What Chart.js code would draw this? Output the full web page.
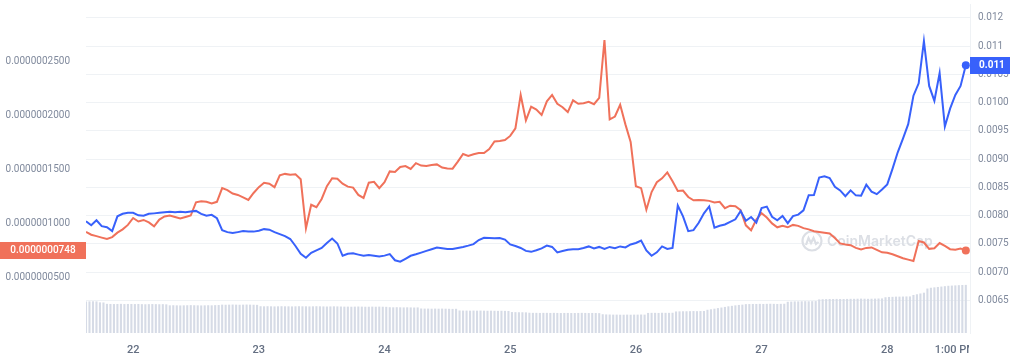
<!DOCTYPE html>
<html><head><meta charset="utf-8">
<script src="https://cdn.jsdelivr.net/npm/chart.js@4/dist/chart.umd.min.js"></script>
<style>html,body{margin:0;padding:0;background:#fff;}#wrap{width:1018px;height:356px;}</style>
</head><body><div id="wrap"><canvas id="c" width="1018" height="356"></canvas></div>
<script>
// ---- data (hourly, 21st 15:00 -> 28th 15:00) ----
const hourCount = 169;
const hours = Array.from({length: hourCount}, (_, i) => i);
const xTickHours = [9, 33, 57, 81, 105, 129, 153, 166];
const xTickLabels = ['22', '23', '24', '25', '26', '27', '28', '1:00 PM'];

const leftTickValues = [0.00000005, 0.0000001, 0.00000015, 0.0000002, 0.00000025];
const leftTickLabels = ['0.0000000500', '0.0000001000', '0.0000001500', '0.0000002000', '0.0000002500'];
const rightTickValues = [0.0065, 0.007, 0.0075, 0.008, 0.0085, 0.009, 0.0095, 0.01, 0.0105, 0.011, 0.0115];
const rightTickLabels = ['0.0065', '0.0070', '0.0075', '0.0080', '0.0085', '0.0090', '0.0095', '0.0100', '0.0105', '0.011', '0.012'];

const redLastLabel = '0.0000000748';
const blueLastLabel = '0.011';

// red series, units of 1e-9
const redPriceE9 = [
 92.1, 89.5, 88.2, 86.8, 85.5, 87.3, 91.4, 94.5, 98.6, 105.0,
 101.8, 103.2, 100.9, 97.3, 103.6, 106.4, 107.3, 105.9, 104.5, 105.9,
 107.3, 119.5, 120.5, 120.0, 118.6, 120.0, 132.7, 130.9, 127.7, 126.4,
 124.1, 121.8, 128.2, 133.6, 137.7, 136.8, 133.6, 144.5, 145.9, 145.2,
 145.5, 140.9, 95.5, 117.3, 115.0, 122.7, 134.5, 141.8, 141.4, 136.8,
 134.1, 133.2, 126.4, 123.6, 137.7, 138.6, 132.7, 138.2, 148.2, 147.7,
 152.3, 153.2, 150.5, 155.9, 153.6, 153.2, 154.1, 154.7, 151.8, 150.9,
 150.7, 157.3, 164.3, 162.5, 164.1, 165.2, 165.3, 168.9, 175.9, 176.4,
 177.3, 181.1, 188.2, 219.1, 195.5, 208.2, 205.5, 200.5, 213.2, 219.1,
 210.9, 207.7, 203.2, 214.1, 210.9, 211.4, 212.7, 210.5, 216.4, 270.0,
 196.4, 199.1, 210.0, 191.8, 175.5, 134.5, 132.7, 112.7, 129.1, 138.2,
 141.8, 147.3, 139.1, 130.0, 130.5, 124.5, 121.4, 121.8, 121.4, 120.9,
 119.5, 120.0, 114.1, 116.4, 115.9, 112.3, 98.2, 93.6, 103.6, 109.5,
 105.5, 100.0, 96.4, 97.7, 96.4, 98.6, 97.7, 95.6, 94.5, 92.7,
 92.1, 91.4, 90.6, 86.4, 81.5, 80.5, 79.8, 77.3, 75.9, 77.3,
 77.7, 75.5, 73.2, 72.7, 71.4, 69.5, 67.7, 66.4, 65.2, 83.6,
 82.3, 76.4, 77.0, 81.8, 79.1, 76.1, 75.5, 76.8, 74.8
];
// blue series, units of 1e-4
const bluePriceE4 = [
 78.99, 78.29, 79.16, 78.11, 77.94, 77.24, 79.86, 80.30, 80.47, 80.47,
 80.03, 79.95, 80.30, 80.38, 80.47, 80.56, 80.65, 80.56, 80.65, 80.56,
 80.73, 80.82, 80.30, 79.95, 80.12, 79.51, 77.41, 77.06, 76.89, 77.06,
 77.24, 77.15, 77.15, 77.32, 77.59, 77.50, 77.06, 76.71, 76.36, 75.84,
 74.61, 73.22, 72.52, 73.39, 73.83, 74.26, 75.14, 75.93, 75.05, 72.87,
 73.22, 73.30, 73.08, 72.87, 73.01, 72.87, 72.73, 72.90, 73.16, 72.08,
 71.82, 72.34, 72.87, 73.13, 73.43, 73.74, 74.04, 74.32, 74.21, 74.09,
 74.09, 74.26, 74.44, 74.67, 74.93, 75.66, 76.05, 76.01, 75.96, 76.01,
 75.75, 74.88, 74.61, 74.26, 73.74, 73.57, 73.86, 74.18, 74.67, 74.44,
 73.48, 73.71, 73.95, 74.04, 74.04, 74.26, 74.53, 74.18, 74.44, 74.09,
 74.44, 74.21, 74.53, 74.35, 74.88, 75.14, 75.58, 73.83, 72.87, 73.48,
 74.53, 74.09, 74.26, 81.78, 79.86, 77.24, 77.41, 78.72, 80.38, 81.61,
 77.85, 78.18, 78.41, 78.86, 79.33, 80.79, 79.06, 79.74, 78.74, 81.31,
 81.57, 79.77, 79.16, 79.91, 78.64, 79.89, 80.16, 80.91, 83.60, 83.62,
 86.73, 86.94, 86.63, 85.10, 84.44, 83.41, 84.46, 83.57, 83.50, 85.45,
 84.23, 83.78, 84.61, 85.52, 88.25, 91.19, 93.62, 96.17, 101.22, 103.41,
 110.89, 102.94, 100.31, 105.21, 95.77, 98.92, 101.36, 102.94, 106.61
];
// volume bars, one every 40 minutes (relative units)
const volumeStepHours = 2 / 3;
const volume = [
 320, 320, 321, 320,
 310, 309,
 295, 294, 293, 294, 295, 293, 294, 294, 293, 294,
 292, 291, 292, 293, 292, 291, 292, 290,
 280, 281, 280, 279, 280, 281, 282, 281, 280, 279, 280, 281, 280, 282, 283,
 287, 286, 287, 288, 287, 286, 287, 288, 287, 286, 285,
 271, 270, 271, 270, 269, 270, 271, 270, 270, 269, 270, 271, 270, 270, 269, 270, 271, 270, 269, 268, 269, 270, 269, 268,
 267, 267, 266, 267, 268, 267, 266, 266, 267, 266, 267, 266, 265,
 261, 260, 261, 260, 259, 260, 259, 258, 259,
 248, 247, 247, 246, 247, 246, 247, 246, 245, 244, 245,
 228, 227, 227, 226, 227, 226, 227, 226, 225, 226, 225, 224, 225, 224, 223,
 212, 211, 210, 210, 209,
 205, 204, 204, 203, 204, 204, 203, 204, 203, 202, 203, 203, 202, 202, 203, 204, 203, 202, 203, 202, 201,
 190, 188, 187, 186, 186, 185, 185, 186, 185, 186, 186, 187, 186,
 203, 204, 204, 203, 205, 204, 204, 205,
 218, 219, 220, 220, 221, 222, 221, 222, 223,
 235, 240, 246, 252, 258, 264, 270, 275, 280, 284, 287,
 292, 293, 294, 294, 295, 294, 295, 296, 295, 294, 295, 296,
 316, 318, 320, 320, 321, 322, 321, 322, 323,
 340, 342, 343, 344, 344, 345, 344, 344, 345, 346, 346, 347, 348, 347, 346, 347, 348, 349, 350,
 362, 365, 366, 368, 368, 369, 370, 370,
 385, 392, 400, 408,
 450, 458, 462, 466, 470, 474, 478, 480, 482, 484, 486, 487
];

// ---- styles ----
const RED = '#f0715a', BLUE = '#3861fb', VOL = '#d6dbe6', GRID = '#eff2f5', TICK = '#808a9d';
const FONT = 'Roboto';
const lastIdx = hourCount - 1;
const redPrice = redPriceE9.map(v => v * 1e-9);
const bluePrice = bluePriceE4.map(v => v * 1e-4);

const watermark = {
  id: 'watermark',
  beforeDatasetsDraw(chart) {
    const ctx = chart.ctx, a = chart.chartArea;
    const cx = a.right - 158, cy = a.top + 237;
    ctx.save();
    ctx.strokeStyle = '#dcdfe5'; ctx.lineWidth = 2.2;
    ctx.beginPath(); ctx.arc(cx, cy, 9.5, 0, Math.PI * 2); ctx.stroke();
    ctx.beginPath();
    ctx.moveTo(cx - 6, cy + 4); ctx.lineTo(cx - 3.5, cy - 3); ctx.lineTo(cx - 1, cy + 2);
    ctx.lineTo(cx + 1.5, cy - 3); ctx.lineTo(cx + 4, cy + 3); ctx.lineTo(cx + 6.5, cy + 1);
    ctx.stroke();
    ctx.fillStyle = '#dcdfe5';
    ctx.font = '600 14px Inter';
    ctx.textBaseline = 'middle';
    ctx.fillText('CoinMarketCap', cx + 15, cy + 1);
    ctx.restore();
  }
};

const lastLabels = {
  id: 'lastLabels',
  afterDraw(chart) {
    const ctx = chart.ctx;
    const yL = chart.scales.yL, yR = chart.scales.yR;
    ctx.save();
    const ry = yL.getPixelForValue(redPrice[lastIdx]);
    ctx.fillStyle = RED;
    ctx.fillRect(0, Math.round(ry) - 9, yL.right, 17);
    ctx.fillStyle = '#fff';
    ctx.font = '500 10px ' + FONT;
    ctx.textAlign = 'center'; ctx.textBaseline = 'middle';
    ctx.fillText(redLastLabel, yL.right / 2, ry);
    const by = yR.getPixelForValue(bluePrice[lastIdx]);
    ctx.fillStyle = BLUE;
    ctx.fillRect(yR.left, Math.round(by) - 8, 40, 17);
    ctx.fillStyle = '#fff';
    ctx.font = 'bold 10px ' + FONT;
    ctx.textAlign = 'left';
    ctx.fillText(blueLastLabel, yR.left + 9, by + 0.5);
    ctx.restore();
  }
};

const chart = new Chart(document.getElementById('c'), {
  type: 'line',
  data: {
    datasets: [
      {
        type: 'line', label: 'Price (USD)',
        data: hours.map((h, i) => ({x: h, y: bluePrice[i]})),
        yAxisID: 'yR', borderColor: BLUE, borderWidth: 2, tension: 0,
        pointRadius: c => c.dataIndex === lastIdx ? 4 : 0,
        pointBackgroundColor: BLUE, pointBorderWidth: 0, order: 0
      },
      {
        type: 'line', label: 'Price (BTC)',
        data: hours.map((h, i) => ({x: h, y: redPrice[i]})),
        yAxisID: 'yL', borderColor: RED, borderWidth: 2, tension: 0,
        pointRadius: c => c.dataIndex === lastIdx ? 4 : 0,
        pointBackgroundColor: RED, pointBorderWidth: 0, order: 1
      },
      {
        type: 'bar', label: 'Volume',
        data: volume.map((v, i) => ({x: i * volumeStepHours, y: v})),
        yAxisID: 'yV', backgroundColor: VOL,
        barPercentage: 0.6, categoryPercentage: 1.0, order: 2
      }
    ]
  },
  options: {
    responsive: false, animation: false, devicePixelRatio: 1,
    layout: {padding: 0},
    plugins: {legend: {display: false}, tooltip: {enabled: false}},
    scales: {
      x: {
        type: 'linear', min: 0, max: 168.8, offset: false,
        grid: {display: false}, border: {display: false},
        ticks: {
          color: '#646f82', font: {family: FONT, size: 11, weight: '500'},
          padding: 3, maxRotation: 0, autoSkip: false,
          callback: (v, i) => xTickLabels[i]
        },
        afterBuildTicks: s => { s.ticks = xTickHours.map(v => ({value: v})); },
        afterFit: s => {
          s.height = 23; s.paddingLeft = 0; s.paddingRight = 0;
          if (!s._clipWrapped) {
            const orig = s.drawLabels;
            s.drawLabels = function (area) {
              const c = this.ctx; c.save(); c.beginPath(); c.rect(0, 0, 969, 356); c.clip();
              orig.call(this, area); c.restore();
            };
            s._clipWrapped = true;
          }
        }
      },
      yL: {
        position: 'left', min: -1.6e-9, max: 3.034e-7,
        grid: {display: false}, border: {display: false},
        ticks: {
          color: TICK, font: {family: FONT, size: 10}, padding: 8, autoSkip: false,
          callback: (v, i) => leftTickLabels[i]
        },
        afterBuildTicks: s => { s.ticks = leftTickValues.map(v => ({value: v})); },
        afterFit: s => { s.width = 86; s.paddingTop = 0; s.paddingBottom = 0; }
      },
      yR: {
        position: 'right', min: 0.00592, max: 0.011745,
        grid: {color: GRID, drawTicks: false},
        border: {display: true, color: GRID},
        ticks: {
          color: TICK, font: {family: FONT, size: 10}, padding: 8, autoSkip: false,
          callback: (v, i) => rightTickLabels[i]
        },
        afterBuildTicks: s => { s.ticks = rightTickValues.map(v => ({value: v})); },
        afterFit: s => { s.width = 48; s.paddingTop = 0; s.paddingBottom = 0; }
      },
      yV: {display: false, min: 0, max: 3330}
    }
  },
  plugins: [watermark, lastLabels]
});
</script></body></html>
